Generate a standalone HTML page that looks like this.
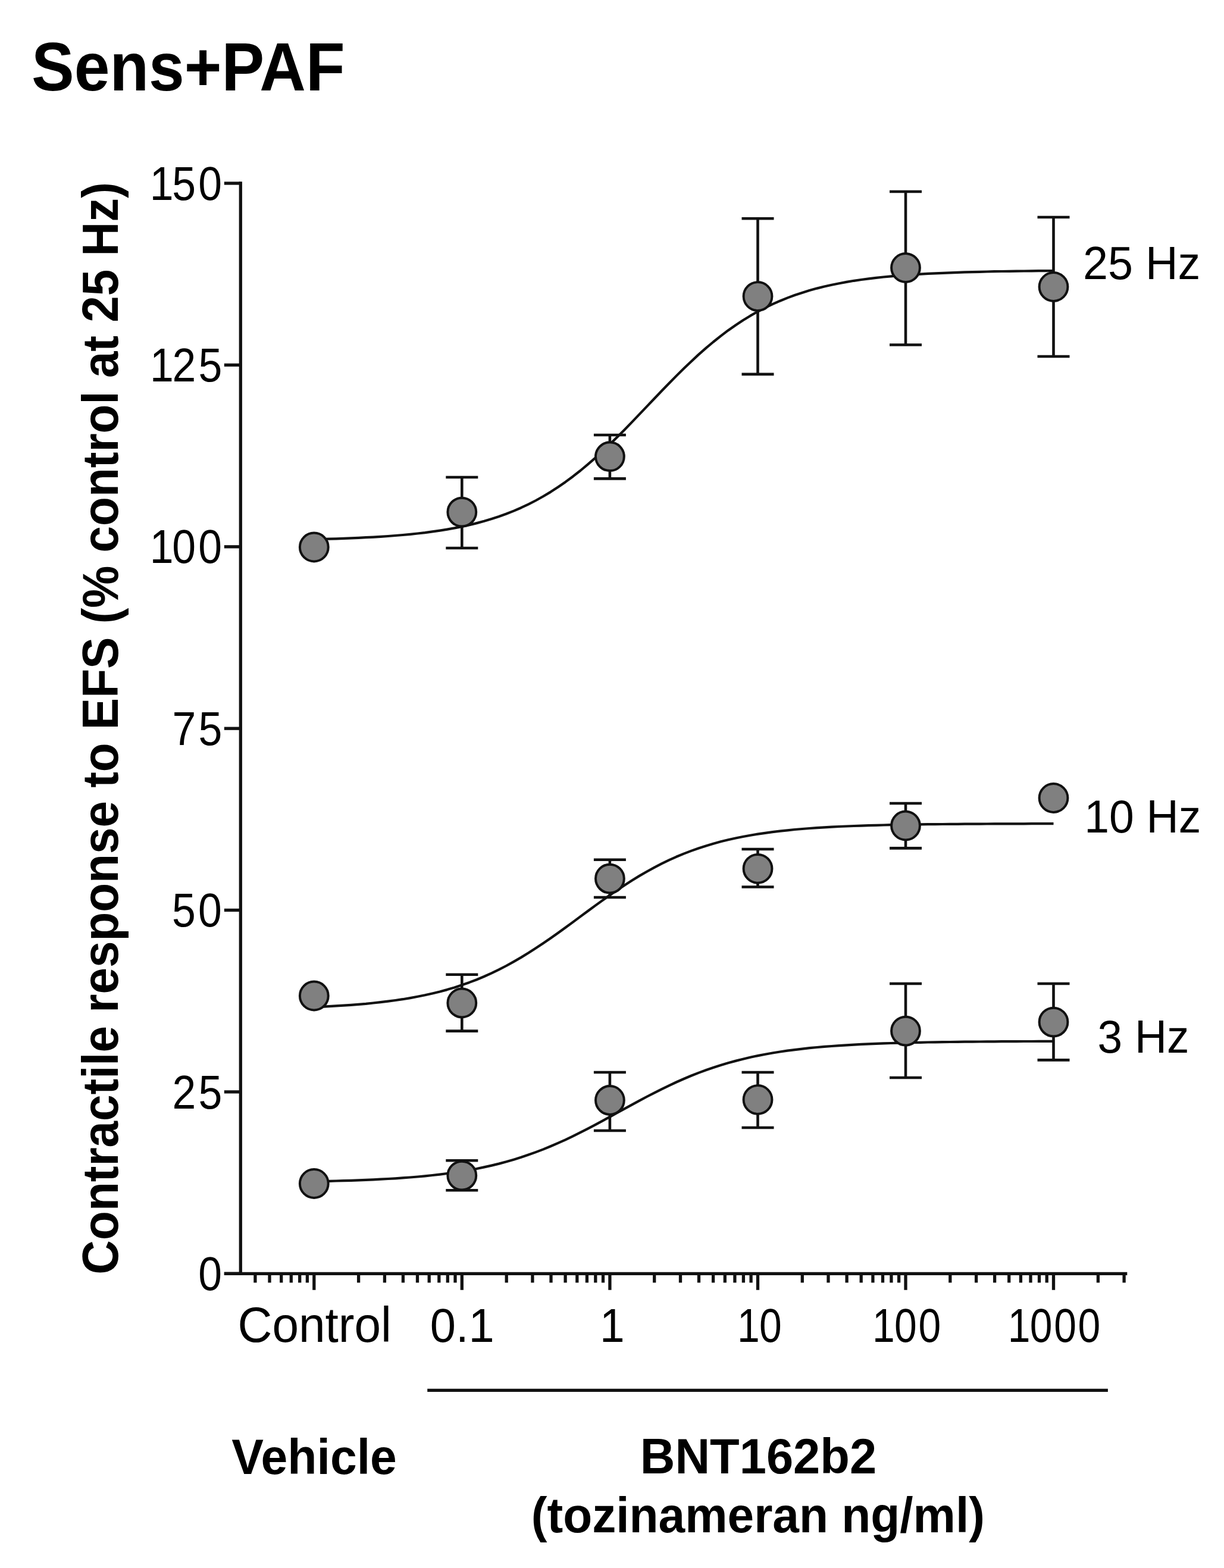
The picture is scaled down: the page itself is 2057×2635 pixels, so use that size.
<!DOCTYPE html>
<html lang="en"><head><meta charset="utf-8"><title>Sens+PAF</title>
<style>html,body{margin:0;padding:0;background:#fff}body{width:2057px;height:2635px;overflow:hidden}</style></head>
<body>
<svg width="2057" height="2635" viewBox="0 0 2057 2635" style="display:block">
<rect width="2057" height="2635" fill="#fff"/>
<g>
<g stroke="#111" stroke-width="5.3" fill="none" stroke-linecap="butt">
<path d="M404.3 305.35 V2142.9500000000003"/>
<path d="M376.8 2140.3 H1894.3"/>
<path d="M376.8 308.0 H404.3"/>
<path d="M376.8 613.4 H404.3"/>
<path d="M376.8 918.8 H404.3"/>
<path d="M376.8 1224.2 H404.3"/>
<path d="M376.8 1529.5 H404.3"/>
<path d="M376.8 1834.9 H404.3"/>
<path d="M376.8 2140.3 H404.3"/>
<path d="M428.9 2140.3 V2155.5"/>
<path d="M453.0 2140.3 V2155.5"/>
<path d="M472.7 2140.3 V2155.5"/>
<path d="M489.3 2140.3 V2155.5"/>
<path d="M503.7 2140.3 V2155.5"/>
<path d="M516.4 2140.3 V2155.5"/>
<path d="M527.8 2140.3 V2167.8"/>
<path d="M602.6 2140.3 V2155.5"/>
<path d="M646.4 2140.3 V2155.5"/>
<path d="M677.4 2140.3 V2155.5"/>
<path d="M701.5 2140.3 V2155.5"/>
<path d="M721.2 2140.3 V2155.5"/>
<path d="M737.8 2140.3 V2155.5"/>
<path d="M752.3 2140.3 V2155.5"/>
<path d="M765.0 2140.3 V2155.5"/>
<path d="M776.3 2140.3 V2167.8"/>
<path d="M851.2 2140.3 V2155.5"/>
<path d="M894.9 2140.3 V2155.5"/>
<path d="M926.0 2140.3 V2155.5"/>
<path d="M950.1 2140.3 V2155.5"/>
<path d="M969.8 2140.3 V2155.5"/>
<path d="M986.4 2140.3 V2155.5"/>
<path d="M1000.8 2140.3 V2155.5"/>
<path d="M1013.5 2140.3 V2155.5"/>
<path d="M1024.9 2140.3 V2167.8"/>
<path d="M1099.7 2140.3 V2155.5"/>
<path d="M1143.5 2140.3 V2155.5"/>
<path d="M1174.5 2140.3 V2155.5"/>
<path d="M1198.6 2140.3 V2155.5"/>
<path d="M1218.3 2140.3 V2155.5"/>
<path d="M1234.9 2140.3 V2155.5"/>
<path d="M1249.4 2140.3 V2155.5"/>
<path d="M1262.1 2140.3 V2155.5"/>
<path d="M1273.5 2140.3 V2167.8"/>
<path d="M1348.3 2140.3 V2155.5"/>
<path d="M1392.0 2140.3 V2155.5"/>
<path d="M1423.1 2140.3 V2155.5"/>
<path d="M1447.2 2140.3 V2155.5"/>
<path d="M1466.9 2140.3 V2155.5"/>
<path d="M1483.5 2140.3 V2155.5"/>
<path d="M1497.9 2140.3 V2155.5"/>
<path d="M1510.6 2140.3 V2155.5"/>
<path d="M1522.0 2140.3 V2167.8"/>
<path d="M1596.8 2140.3 V2155.5"/>
<path d="M1640.6 2140.3 V2155.5"/>
<path d="M1671.6 2140.3 V2155.5"/>
<path d="M1695.7 2140.3 V2155.5"/>
<path d="M1715.4 2140.3 V2155.5"/>
<path d="M1732.0 2140.3 V2155.5"/>
<path d="M1746.5 2140.3 V2155.5"/>
<path d="M1759.2 2140.3 V2155.5"/>
<path d="M1770.5 2140.3 V2167.8"/>
<path d="M1845.4 2140.3 V2155.5"/>
<path d="M1889.1 2140.3 V2155.5"/>
</g>
<path d="M718.2 2336.4 H1861.9" stroke="#111" stroke-width="5.3" fill="none"/>
<path d="M527.8 906.3 L540.2 906.0 L552.7 905.6 L565.1 905.3 L577.5 904.8 L589.9 904.4 L602.4 903.8 L614.8 903.2 L627.2 902.6 L639.6 901.8 L652.1 901.0 L664.5 900.0 L676.9 899.0 L689.4 897.8 L701.8 896.5 L714.2 895.1 L726.6 893.4 L739.1 891.6 L751.5 889.6 L763.9 887.4 L776.3 884.9 L788.8 882.2 L801.2 879.1 L813.6 875.8 L826.1 872.1 L838.5 868.0 L850.9 863.5 L863.3 858.6 L875.8 853.2 L888.2 847.3 L900.6 841.0 L913.1 834.0 L925.5 826.6 L937.9 818.5 L950.3 809.9 L962.8 800.7 L975.2 791.0 L987.6 780.6 L1000.0 769.8 L1012.5 758.4 L1024.9 746.6 L1037.3 734.4 L1049.8 721.9 L1062.2 709.1 L1074.6 696.1 L1087.0 683.1 L1099.5 670.0 L1111.9 657.0 L1124.3 644.2 L1136.7 631.6 L1149.2 619.3 L1161.6 607.4 L1174.0 595.9 L1186.5 584.9 L1198.9 574.5 L1211.3 564.6 L1223.7 555.2 L1236.2 546.5 L1248.6 538.3 L1261.0 530.7 L1273.5 523.6 L1285.9 517.1 L1298.3 511.2 L1310.7 505.7 L1323.2 500.6 L1335.6 496.0 L1348.0 491.9 L1360.4 488.1 L1372.9 484.6 L1385.3 481.5 L1397.7 478.7 L1410.2 476.2 L1422.6 473.9 L1435.0 471.8 L1447.4 470.0 L1459.9 468.3 L1472.3 466.8 L1484.7 465.5 L1497.1 464.3 L1509.6 463.2 L1522.0 462.3 L1534.4 461.4 L1546.9 460.6 L1559.3 459.9 L1571.7 459.3 L1584.1 458.8 L1596.6 458.3 L1609.0 457.8 L1621.4 457.4 L1633.8 457.1 L1646.3 456.8 L1658.7 456.5 L1671.1 456.2 L1683.6 456.0 L1696.0 455.8 L1708.4 455.7 L1720.8 455.5 L1733.3 455.4 L1745.7 455.2 L1758.1 455.1 L1770.5 455.0" stroke="#111" stroke-width="4.2" fill="none" stroke-linejoin="round"/>
<path d="M527.8 1692.3 L540.2 1691.8 L552.7 1691.1 L565.1 1690.4 L577.5 1689.7 L589.9 1688.8 L602.4 1687.8 L614.8 1686.8 L627.2 1685.5 L639.6 1684.2 L652.1 1682.7 L664.5 1681.0 L676.9 1679.2 L689.4 1677.1 L701.8 1674.8 L714.2 1672.3 L726.6 1669.5 L739.1 1666.5 L751.5 1663.1 L763.9 1659.4 L776.3 1655.3 L788.8 1650.9 L801.2 1646.2 L813.6 1641.0 L826.1 1635.4 L838.5 1629.4 L850.9 1623.0 L863.3 1616.1 L875.8 1608.9 L888.2 1601.3 L900.6 1593.3 L913.1 1585.0 L925.5 1576.5 L937.9 1567.7 L950.3 1558.7 L962.8 1549.6 L975.2 1540.4 L987.6 1531.2 L1000.0 1522.1 L1012.5 1513.1 L1024.9 1504.3 L1037.3 1495.8 L1049.8 1487.5 L1062.2 1479.5 L1074.6 1471.9 L1087.0 1464.7 L1099.5 1457.8 L1111.9 1451.4 L1124.3 1445.4 L1136.7 1439.8 L1149.2 1434.6 L1161.6 1429.9 L1174.0 1425.5 L1186.5 1421.4 L1198.9 1417.7 L1211.3 1414.3 L1223.7 1411.3 L1236.2 1408.5 L1248.6 1406.0 L1261.0 1403.7 L1273.5 1401.6 L1285.9 1399.8 L1298.3 1398.1 L1310.7 1396.6 L1323.2 1395.3 L1335.6 1394.0 L1348.0 1393.0 L1360.4 1392.0 L1372.9 1391.1 L1385.3 1390.4 L1397.7 1389.7 L1410.2 1389.0 L1422.6 1388.5 L1435.0 1388.0 L1447.4 1387.6 L1459.9 1387.2 L1472.3 1386.8 L1484.7 1386.5 L1497.1 1386.2 L1509.6 1386.0 L1522.0 1385.8 L1534.4 1385.6 L1546.9 1385.4 L1559.3 1385.2 L1571.7 1385.1 L1584.1 1385.0 L1596.6 1384.9 L1609.0 1384.8 L1621.4 1384.7 L1633.8 1384.6 L1646.3 1384.6 L1658.7 1384.5 L1671.1 1384.4 L1683.6 1384.4 L1696.0 1384.3 L1708.4 1384.3 L1720.8 1384.3 L1733.3 1384.2 L1745.7 1384.2 L1758.1 1384.2 L1770.5 1384.2" stroke="#111" stroke-width="4.2" fill="none" stroke-linejoin="round"/>
<path d="M527.8 1985.4 L540.2 1985.1 L552.7 1984.8 L565.1 1984.5 L577.5 1984.2 L589.9 1983.8 L602.4 1983.3 L614.8 1982.9 L627.2 1982.3 L639.6 1981.7 L652.1 1981.0 L664.5 1980.3 L676.9 1979.4 L689.4 1978.5 L701.8 1977.5 L714.2 1976.3 L726.6 1975.0 L739.1 1973.6 L751.5 1972.0 L763.9 1970.3 L776.3 1968.4 L788.8 1966.3 L801.2 1964.0 L813.6 1961.4 L826.1 1958.6 L838.5 1955.6 L850.9 1952.3 L863.3 1948.7 L875.8 1944.8 L888.2 1940.6 L900.6 1936.1 L913.1 1931.4 L925.5 1926.3 L937.9 1920.9 L950.3 1915.3 L962.8 1909.3 L975.2 1903.2 L987.6 1896.8 L1000.0 1890.3 L1012.5 1883.6 L1024.9 1876.8 L1037.3 1870.0 L1049.8 1863.2 L1062.2 1856.4 L1074.6 1849.6 L1087.0 1843.0 L1099.5 1836.6 L1111.9 1830.3 L1124.3 1824.3 L1136.7 1818.5 L1149.2 1813.0 L1161.6 1807.8 L1174.0 1802.9 L1186.5 1798.3 L1198.9 1794.0 L1211.3 1790.0 L1223.7 1786.3 L1236.2 1782.9 L1248.6 1779.7 L1261.0 1776.8 L1273.5 1774.1 L1285.9 1771.7 L1298.3 1769.5 L1310.7 1767.5 L1323.2 1765.7 L1335.6 1764.1 L1348.0 1762.6 L1360.4 1761.2 L1372.9 1760.0 L1385.3 1758.9 L1397.7 1758.0 L1410.2 1757.1 L1422.6 1756.3 L1435.0 1755.6 L1447.4 1754.9 L1459.9 1754.4 L1472.3 1753.9 L1484.7 1753.4 L1497.1 1753.0 L1509.6 1752.6 L1522.0 1752.3 L1534.4 1752.0 L1546.9 1751.8 L1559.3 1751.5 L1571.7 1751.3 L1584.1 1751.1 L1596.6 1751.0 L1609.0 1750.8 L1621.4 1750.7 L1633.8 1750.6 L1646.3 1750.5 L1658.7 1750.4 L1671.1 1750.3 L1683.6 1750.2 L1696.0 1750.1 L1708.4 1750.1 L1720.8 1750.0 L1733.3 1750.0 L1745.7 1749.9 L1758.1 1749.9 L1770.5 1749.9" stroke="#111" stroke-width="4.2" fill="none" stroke-linejoin="round"/>
<path d="M776.3 802 V921 M749.3 802 H803.3 M749.3 921 H803.3" stroke="#111" stroke-width="4.6" fill="none"/>
<path d="M1024.9 731 V804.4 M997.9 731 H1051.9 M997.9 804.4 H1051.9" stroke="#111" stroke-width="4.6" fill="none"/>
<path d="M1273.5 367.2 V628.9 M1246.5 367.2 H1300.5 M1246.5 628.9 H1300.5" stroke="#111" stroke-width="4.6" fill="none"/>
<path d="M1522.0 322 V579.5 M1495.0 322 H1549.0 M1495.0 579.5 H1549.0" stroke="#111" stroke-width="4.6" fill="none"/>
<path d="M1770.5 365 V599 M1743.5 365 H1797.5 M1743.5 599 H1797.5" stroke="#111" stroke-width="4.6" fill="none"/>
<circle cx="527.8" cy="919.5" r="23.9" fill="#808080" stroke="#111" stroke-width="4.0"/>
<circle cx="776.3" cy="860.6" r="23.9" fill="#808080" stroke="#111" stroke-width="4.0"/>
<circle cx="1024.9" cy="767.2" r="23.9" fill="#808080" stroke="#111" stroke-width="4.0"/>
<circle cx="1273.5" cy="498" r="23.9" fill="#808080" stroke="#111" stroke-width="4.0"/>
<circle cx="1522.0" cy="450" r="23.9" fill="#808080" stroke="#111" stroke-width="4.0"/>
<circle cx="1770.5" cy="482" r="23.9" fill="#808080" stroke="#111" stroke-width="4.0"/>
<path d="M776.3 1637.8 V1732.6 M749.3 1637.8 H803.3 M749.3 1732.6 H803.3" stroke="#111" stroke-width="4.6" fill="none"/>
<path d="M1024.9 1444.7 V1508 M997.9 1444.7 H1051.9 M997.9 1508 H1051.9" stroke="#111" stroke-width="4.6" fill="none"/>
<path d="M1273.5 1427 V1490.5 M1246.5 1427 H1300.5 M1246.5 1490.5 H1300.5" stroke="#111" stroke-width="4.6" fill="none"/>
<path d="M1522.0 1350 V1425.4 M1495.0 1350 H1549.0 M1495.0 1425.4 H1549.0" stroke="#111" stroke-width="4.6" fill="none"/>
<circle cx="527.8" cy="1673.5" r="23.9" fill="#808080" stroke="#111" stroke-width="4.0"/>
<circle cx="776.3" cy="1685.5" r="23.9" fill="#808080" stroke="#111" stroke-width="4.0"/>
<circle cx="1024.9" cy="1476.6" r="23.9" fill="#808080" stroke="#111" stroke-width="4.0"/>
<circle cx="1273.5" cy="1459.8" r="23.9" fill="#808080" stroke="#111" stroke-width="4.0"/>
<circle cx="1522.0" cy="1387.5" r="23.9" fill="#808080" stroke="#111" stroke-width="4.0"/>
<circle cx="1770.5" cy="1341" r="23.9" fill="#808080" stroke="#111" stroke-width="4.0"/>
<path d="M776.3 1950.2 V2000.3 M749.3 1950.2 H803.3 M749.3 2000.3 H803.3" stroke="#111" stroke-width="4.6" fill="none"/>
<path d="M1024.9 1802 V1900 M997.9 1802 H1051.9 M997.9 1900 H1051.9" stroke="#111" stroke-width="4.6" fill="none"/>
<path d="M1273.5 1802 V1895 M1246.5 1802 H1300.5 M1246.5 1895 H1300.5" stroke="#111" stroke-width="4.6" fill="none"/>
<path d="M1522.0 1653 V1811 M1495.0 1653 H1549.0 M1495.0 1811 H1549.0" stroke="#111" stroke-width="4.6" fill="none"/>
<path d="M1770.5 1653 V1781.4 M1743.5 1653 H1797.5 M1743.5 1781.4 H1797.5" stroke="#111" stroke-width="4.6" fill="none"/>
<circle cx="527.8" cy="1989" r="23.9" fill="#808080" stroke="#111" stroke-width="4.0"/>
<circle cx="776.3" cy="1975.6" r="23.9" fill="#808080" stroke="#111" stroke-width="4.0"/>
<circle cx="1024.9" cy="1849" r="23.9" fill="#808080" stroke="#111" stroke-width="4.0"/>
<circle cx="1273.5" cy="1848" r="23.9" fill="#808080" stroke="#111" stroke-width="4.0"/>
<circle cx="1522.0" cy="1732.6" r="23.9" fill="#808080" stroke="#111" stroke-width="4.0"/>
<circle cx="1770.5" cy="1717.6" r="23.9" fill="#808080" stroke="#111" stroke-width="4.0"/>
<g style="font-family:&quot;Liberation Sans&quot;,sans-serif" fill="#000">
<text transform="translate(52.98 152.25) scale(0.9318 1)" font-size="115.35" font-weight="bold">Sens+PAF</text>
<text transform="translate(399.49 2255.46) scale(0.9565 1)" font-size="83.81">Control</text>
<text transform="translate(1820.12 468.93) scale(0.9765 1)" font-size="77.32">25 Hz</text>
<text transform="translate(1822.16 1398.83) scale(0.9737 1)" font-size="77.18">10 Hz</text>
<text transform="translate(1844.61 1768.83) scale(0.9699 1)" font-size="77.18">3 Hz</text>
<text transform="translate(389.29 2476.96) scale(0.9577 1)" font-size="84.08" font-weight="bold">Vehicle</text>
<text transform="translate(1075.72 2476.47) scale(0.9777 1)" font-size="83.13" font-weight="bold">BNT162b2</text>
<text transform="translate(892.79 2575.01) scale(0.9692 1)" font-size="82.77" font-weight="bold">(tozinameran ng/ml)</text>
<text transform="translate(251.66 335.73) scale(0.9000 1)" font-size="79.50" letter-spacing="4.67">1<tspan dx="-7.22">50</tspan></text>
<text transform="translate(252.02 641.11) scale(0.9000 1)" font-size="79.50" letter-spacing="4.67">1<tspan dx="-7.22">25</tspan></text>
<text transform="translate(251.66 946.49) scale(0.9000 1)" font-size="79.50" letter-spacing="4.67">1<tspan dx="-7.22">00</tspan></text>
<text transform="translate(289.43 1251.88) scale(0.9000 1)" font-size="79.50" letter-spacing="4.67">75</text>
<text transform="translate(289.08 1557.26) scale(0.9000 1)" font-size="79.50" letter-spacing="4.67">50</text>
<text transform="translate(289.43 1862.64) scale(0.9000 1)" font-size="79.50" letter-spacing="4.67">25</text>
<text transform="translate(333.35 2168.03) scale(0.9000 1)" font-size="79.50" letter-spacing="4.67">0</text>
<text transform="translate(1239.09 2255.12) scale(0.8600 1)" font-size="78.90" letter-spacing="3.10">1<tspan dx="-3.95">0</tspan></text>
<text transform="translate(1466.07 2255.12) scale(0.8600 1)" font-size="78.90" letter-spacing="3.10">1<tspan dx="-3.95">00</tspan></text>
<text transform="translate(1693.75 2255.12) scale(0.8600 1)" font-size="78.90" letter-spacing="3.10">1<tspan dx="-3.95">000</tspan></text>
<text transform="translate(1007.92 2255.12) scale(0.9500 1)" font-size="78.90">1</text>
<text transform="translate(722.68 2255.12) scale(0.9850 1)" font-size="78.90">0.1</text>
<text transform="translate(198.18 2141.70) rotate(-90) scale(0.9373 1)" font-size="85.35" font-weight="bold">Contractile response to EFS (% control at 25 Hz)</text>
</g>
</g>
</svg>
</body></html>
